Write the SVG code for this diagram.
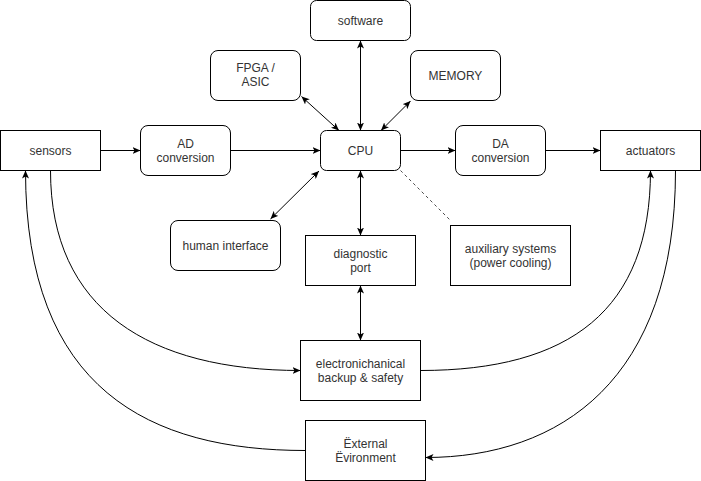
<svg xmlns="http://www.w3.org/2000/svg" width="701" height="481" viewBox="0 0 701 481">
<defs>
<style>
.n{fill:#fff;stroke:#000;stroke-width:1}
.t{font-family:"Liberation Sans",Arial,sans-serif;font-size:12px;fill:#333;text-anchor:middle}
.c{fill:none;stroke:#000;stroke-width:1}
.d{fill:none;stroke:#000;stroke-width:0.7;stroke-dasharray:3 3}
</style>
<marker id="a" viewBox="0 0 8 7" refX="8" refY="3.5" markerWidth="8" markerHeight="7" markerUnits="userSpaceOnUse" orient="auto-start-reverse">
<path d="M0,0 L8,3.5 L0,7 L2,3.5 z" fill="#000"/>
</marker>
</defs>
<rect width="701" height="481" fill="#fff"/>
<g id="connectors">
<line class="c" x1="100.5" y1="150.5" x2="140.5" y2="150.5" marker-end="url(#a)"/>
<line class="c" x1="230.5" y1="150.5" x2="320.5" y2="150.5" marker-end="url(#a)"/>
<line class="c" x1="400.5" y1="150.5" x2="455.5" y2="150.5" marker-end="url(#a)"/>
<line class="c" x1="545.5" y1="150.5" x2="600.5" y2="150.5" marker-end="url(#a)"/>
<line class="c" x1="360.5" y1="40.5" x2="360.5" y2="130.5" marker-start="url(#a)" marker-end="url(#a)"/>
<line class="c" x1="301.5" y1="96.5" x2="339" y2="130.5" marker-start="url(#a)" marker-end="url(#a)"/>
<line class="c" x1="410.5" y1="101" x2="381" y2="130.5" marker-start="url(#a)" marker-end="url(#a)"/>
<line class="c" x1="270.5" y1="219" x2="319" y2="171" marker-start="url(#a)" marker-end="url(#a)"/>
<line class="c" x1="360.5" y1="170.5" x2="360.5" y2="235.5" marker-start="url(#a)" marker-end="url(#a)"/>
<line class="c" x1="360.5" y1="285.5" x2="360.5" y2="340.5" marker-start="url(#a)" marker-end="url(#a)"/>
<line class="d" x1="400.5" y1="170.5" x2="450.5" y2="220.5"/>
<path class="c" d="M50.5,170.5 C50.5,310 150,370.5 300.5,370.5" marker-end="url(#a)"/>
<path class="c" d="M305.5,450.5 C150,450.5 25.5,390 25.5,170.5" marker-end="url(#a)"/>
<path class="c" d="M420.5,370.5 C570,370.5 650.5,310 650.5,170.5" marker-end="url(#a)"/>
<path class="c" d="M675.5,170.5 C675.5,380 560,457.5 425.5,457.5" marker-end="url(#a)"/>
</g>
<g id="software"><rect class="n" x="310.5" y="0.5" width="100" height="40" rx="6"/><text class="t" x="360.5" y="24.5">software</text></g>
<g id="fpga"><rect class="n" x="210.5" y="50.5" width="90" height="50" rx="7.5"/><text class="t" x="255.5" y="72">FPGA /</text><text class="t" x="255.5" y="86">ASIC</text></g>
<g id="memory"><rect class="n" x="410.5" y="50.5" width="90" height="50" rx="7.5"/><text class="t" x="455.5" y="79.5">MEMORY</text></g>
<g id="sensors"><rect class="n" x="0.5" y="130.5" width="100" height="40"/><text class="t" x="50.5" y="154.5">sensors</text></g>
<g id="ad"><rect class="n" x="140.5" y="125.5" width="90" height="50" rx="7.5"/><text class="t" x="185.5" y="147.5">AD</text><text class="t" x="185.5" y="161.5">conversion</text></g>
<g id="cpu"><rect class="n" x="320.5" y="130.5" width="80" height="40" rx="6"/><text class="t" x="360.5" y="154.5">CPU</text></g>
<g id="da"><rect class="n" x="455.5" y="125.5" width="90" height="50" rx="7.5"/><text class="t" x="500.5" y="147.5">DA</text><text class="t" x="500.5" y="161.5">conversion</text></g>
<g id="actuators"><rect class="n" x="600.5" y="130.5" width="100" height="40"/><text class="t" x="650.5" y="154.5">actuators</text></g>
<g id="human"><rect class="n" x="170.5" y="220.5" width="110" height="50" rx="7.5"/><text class="t" x="225.5" y="249.5">human interface</text></g>
<g id="diagnostic"><rect class="n" x="305.5" y="235.5" width="110" height="50"/><text class="t" x="360.5" y="257.5">diagnostic</text><text class="t" x="360.5" y="271.5">port</text></g>
<g id="auxiliary"><rect class="n" x="450.5" y="225.5" width="120" height="60"/><text class="t" x="510.5" y="252.5">auxiliary systems</text><text class="t" x="510.5" y="266.5">(power cooling)</text></g>
<g id="backup"><rect class="n" x="300.5" y="340.5" width="120" height="60"/><text class="t" x="360.5" y="367.5">electronichanical</text><text class="t" x="360.5" y="381.5">backup &amp; safety</text></g>
<g id="external"><rect class="n" x="305.5" y="420.5" width="120" height="60"/><text class="t" x="365.5" y="447.5">Ëxternal</text><text class="t" x="365.5" y="461.5">Ëvironment</text></g>
</svg>
